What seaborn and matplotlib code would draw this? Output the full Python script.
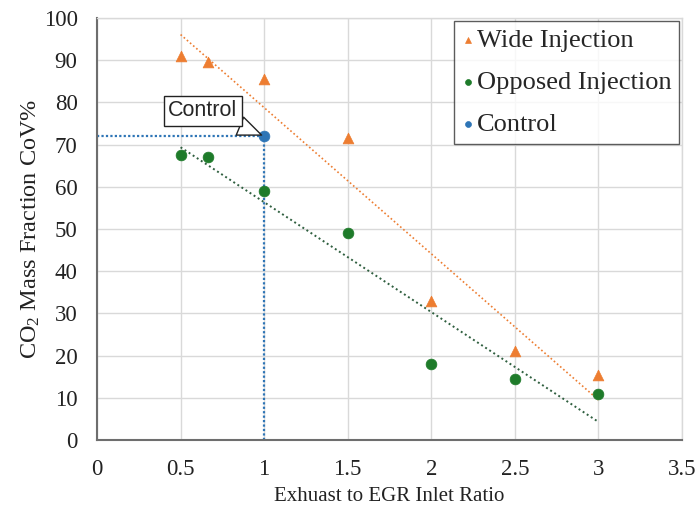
import numpy as np
import pandas as pd
import matplotlib
matplotlib.use("Agg")
import matplotlib.pyplot as plt
import seaborn as sns

ratio = [0.5, 0.667, 1.0, 1.5, 2.0, 2.5, 3.0]
wide = [91, 89.5, 85.5, 71.5, 33, 21, 15.5]
opposed = [67.5, 67, 59, 49, 18, 14.5, 11]
control_x = [1.0]
control_y = [72]
x_ticks = [0, 0.5, 1, 1.5, 2, 2.5, 3, 3.5]
x_tick_labels = ["0", "0.5", "1", "1.5", "2", "2.5", "3", "3.5"]
y_ticks = [0, 10, 20, 30, 40, 50, 60, 70, 80, 90, 100]

sns.set_theme(style="white")
plt.rcParams['font.family'] = ['Liberation Serif', 'DejaVu Serif']
plt.rcParams['mathtext.fontset'] = 'custom'
plt.rcParams['mathtext.rm'] = 'Liberation Serif'
plt.rcParams['mathtext.it'] = 'Liberation Serif:italic'

fig = plt.figure(figsize=(6.98, 5.14), dpi=100)
ax = fig.add_axes([97/698, 74/514, 585/698, 422/514])

c_wide = "#ED7D31"
c_opp = "#1E7B2A"
c_ctrl = "#2E75B6"

df_w = pd.DataFrame({"x": ratio, "y": wide})
df_o = pd.DataFrame({"x": ratio, "y": opposed})
df_c = pd.DataFrame({"x": control_x, "y": control_y})

# control guide lines
ax.plot([0, control_x[0]], [control_y[0], control_y[0]], color=c_ctrl, ls=(0, (1, 1)), lw=1.6, zorder=2)
ax.plot([control_x[0], control_x[0]], [0, control_y[0]], color=c_ctrl, ls=(0, (1, 1)), lw=1.6, zorder=2)

# trendlines (linear least squares fits)
xr = np.array([min(ratio), max(ratio)])
pw = np.polyfit(ratio, wide, 1)
po = np.polyfit(ratio, opposed, 1)
ax.plot(xr, np.polyval(pw, xr), color=c_wide, ls=(0, (1, 1.5)), lw=1.2, zorder=2)
ax.plot(xr, np.polyval(po, xr), color="#2F5F3F", ls=(0, (1, 1.5)), lw=1.4, zorder=2)

sns.scatterplot(data=df_w, x="x", y="y", ax=ax, marker="^", s=60, color=c_wide,
                edgecolor=c_wide, linewidth=0.5, label="Wide Injection", zorder=3)
sns.scatterplot(data=df_o, x="x", y="y", ax=ax, marker="o", s=60, color=c_opp,
                edgecolor=c_opp, linewidth=0.5, label="Opposed Injection", zorder=3)
sns.scatterplot(data=df_c, x="x", y="y", ax=ax, marker="o", s=60, color=c_ctrl,
                edgecolor=c_ctrl, linewidth=0.5, label="Control", zorder=4)

ax.set_xlim(0, 3.5)
ax.set_ylim(0, 100)
ax.set_xticks(x_ticks)
ax.set_xticklabels(x_tick_labels)
ax.set_yticks(y_ticks)
ax.tick_params(axis="both", labelsize=16.5, length=0, colors="#222222")
ax.tick_params(axis="x", pad=14)
ax.tick_params(axis="y", pad=14)
ax.grid(True, color="#D9D9D9", lw=1.0)
ax.set_axisbelow(True)
for s in ["top", "right"]:
    ax.spines[s].set_color("#D9D9D9")
    ax.spines[s].set_linewidth(1.0)
for s in ["left", "bottom"]:
    ax.spines[s].set_color("#6E6E6E")
    ax.spines[s].set_linewidth(1.5)

ax.set_xlabel("Exhuast to EGR Inlet Ratio", fontsize=15, color="#222222", labelpad=5)
ax.set_ylabel("CO$_2$ Mass Fraction CoV%", fontsize=17.5, color="#222222", labelpad=1)

ax.annotate("Control", xy=(control_x[0], control_y[0]), xytext=(0.634, 78.0),
            ha="center", va="center", fontsize=15.5, family=["Liberation Sans", "DejaVu Sans"],
            bbox=dict(boxstyle="square,pad=0.2", fc="white", ec="#222222", lw=1.0),
            arrowprops=dict(arrowstyle="wedge,tail_width=0.9,shrink_factor=0.5",
                            fc="white", ec="#222222", lw=1.0,
                            shrinkA=0, shrinkB=2),
            zorder=5)

leg = ax.legend(loc="upper right", bbox_to_anchor=(1.0, 1.0), borderaxespad=0.1,
                fontsize=19, frameon=True,
                fancybox=False, edgecolor="#333333", handletextpad=0.15,
                handlelength=0.4, labelspacing=0.7, borderpad=0.3, markerscale=0.55)
leg.get_frame().set_linewidth(1.0)

fig.savefig("out.png", dpi=100)
